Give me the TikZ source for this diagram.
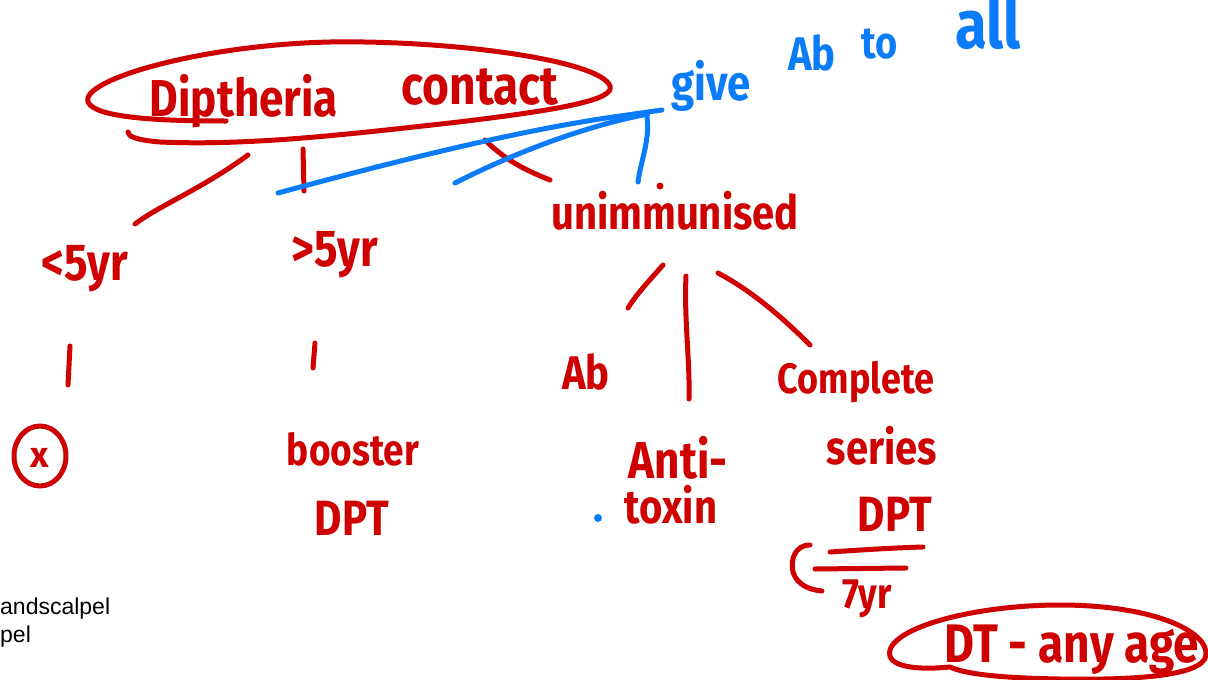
\documentclass[tikz,border=0pt]{standalone}
\usepackage{fontspec}
\newfontfamily\hand{Fira Sans}
\newfontfamily\plain{Liberation Sans}
\definecolor{inkred}{RGB}{206,0,0}
\definecolor{inkblue}{RGB}{10,124,250}
% handwritten words run a little taller than the typeface
\newcommand{\tall}[1]{\scalebox{1}[1.18]{#1}}
\tikzset{
  redstroke/.style={draw=inkred, line width=5pt, line cap=round, line join=round},
  bluestroke/.style={draw=inkblue, line width=5pt, line cap=round, line join=round},
  word/.style={inner sep=0pt, anchor=base, font=\hand\bfseries\fontsize{#1}{#1}\selectfont},
  redword/.style={word=#1, text=inkred},
  blueword/.style={word=#1, text=inkblue},
  note/.style={inner sep=0pt, anchor=base west, font=\plain\fontsize{23}{23}\selectfont, text=black}
}
\begin{document}
\begin{tikzpicture}[x=1pt, y=-1pt]
\useasboundingbox (0,0) rectangle (1208,680);
\fill[white] (0,0) rectangle (1208,680);

% ---- top: contact ----
\node[redword=44] (dip) at (244,116) {\tall{Diptheria}};
\node[redword=46] (contact) at (480,104) {\tall{contact}};
\draw[redstroke] (226,121) .. controls (160,121) and (95,118) .. (88,102)
  .. controls (80,80) and (200,45) .. (330,42)
  .. controls (450,40) and (600,60) .. (610,86)
  .. controls (615,100) and (560,110) .. (450,123)
  .. controls (350,134) and (250,146) .. (160,142)
  .. controls (135,140) and (128,136) .. (128,132);

% ---- blue note ----
\node[blueword=42] (give) at (711,100) {\tall{give}};
\node[blueword=40] (ab1) at (812,70) {\tall{Ab}};
\node[blueword=38] (to) at (880,58) {\tall{to}};
\node[blueword=58] (all) at (988,48) {\tall{all}};

% ---- second level ----
\node[redword=44] (under) at (85,280) {\tall{<5yr}};
\node[redword=44] (over) at (335,266) {\tall{>5yr}};
\node[redword=40] (unimm) at (675,229) {\tall{unimmunised}};

\coordinate (c1a) at (248,155); \coordinate (c1b) at (135,224);
\coordinate (c2a) at (303,149); \coordinate (c2b) at (304,191);
\coordinate (c3a) at (485,140); \coordinate (c3b) at (550,180);
\draw[redstroke] (c1a) .. controls (200,190) and (160,205) .. (c1b);
\draw[redstroke] (c2a) -- (c2b);
\draw[redstroke] (c3a) .. controls (505,160) and (525,170) .. (c3b);
\fill[inkred] (660,186) circle (3.5pt);

% ---- blue links ----
\coordinate (b0) at (662,110);
\coordinate (b1) at (278,193);
\coordinate (b2) at (455,183);
\coordinate (b3) at (638,182);
\draw[bluestroke] (b1) .. controls (400,160) and (520,130) .. (620,116) -- (b0);
\draw[bluestroke] (b2) .. controls (520,150) and (590,125) .. (648,114);
\draw[bluestroke] (647,117) .. controls (650,140) and (641,160) .. (b3);

% ---- third level ----
\coordinate (u1a) at (70,346); \coordinate (u1b) at (68,385);
\draw[redstroke] (u1a) -- (u1b);
\node[redword=36] (xmark) at (40,467) {x};
\draw[redstroke] (40,456) ellipse (26pt and 30pt);

\coordinate (o1a) at (315,343); \coordinate (o1b) at (313,368);
\draw[redstroke] (o1a) -- (o1b);
\node[redword=37] (booster) at (353,465) {\tall{booster}};
\node[redword=42] (dpt1) at (352,535) {\tall{DPT}};

\coordinate (m1a) at (663,265); \coordinate (m1b) at (628,308);
\coordinate (m2a) at (686,276); \coordinate (m2b) at (689,399);
\coordinate (m3a) at (718,273); \coordinate (m3b) at (810,345);
\draw[redstroke] (m1a) .. controls (650,280) and (638,292) .. (m1b);
\draw[redstroke] (m2a) .. controls (684,320) and (690,360) .. (m2b);
\draw[redstroke] (m3a) .. controls (750,290) and (780,315) .. (m3b);

\node[redword=40] (ab2) at (586,389) {\tall{Ab}};
\node[redword=44] (anti) at (678,478) {\tall{Anti-}};
\node[redword=40] (toxin) at (671,523) {\tall{toxin}};
\fill[inkblue] (598,518) circle (4pt);

\node[redword=36] (complete) at (856,393) {\tall{Complete}};
\node[redword=40] (series) at (882,464) {\tall{series}};
\node[redword=42] (dpt2) at (895,531) {\tall{DPT}};

\coordinate (l1a) at (830,552); \coordinate (l1b) at (923,547);
\coordinate (l2a) at (815,569); \coordinate (l2b) at (906,568);
\draw[redstroke] (l1a) .. controls (860,550) and (890,548) .. (l1b);
\draw[redstroke] (l2a) -- (l2b);
\draw[redstroke] (810,545) .. controls (795,545) and (790,560) .. (793,572)
  .. controls (797,585) and (810,590) .. (822,591);
\node[redword=36] (seven) at (867,608) {\tall{7yr}};

% ---- last ----
\node[redword=46] (dt) at (1072,662) {\tall{DT - any age}};
\draw[redstroke] (950,667) .. controls (920,670) and (885,668) .. (890,650)
  .. controls (898,625) and (980,605) .. (1060,605)
  .. controls (1150,605) and (1208,630) .. (1206,655)
  .. controls (1204,678) and (1120,680) .. (1060,679)
  .. controls (1000,678) and (965,674) .. (950,667);

% ---- small print ----
\node[note] (n1) at (0,614) {andscalpel};
\node[note] (n2) at (0,642) {pel};
\end{tikzpicture}
\end{document}
